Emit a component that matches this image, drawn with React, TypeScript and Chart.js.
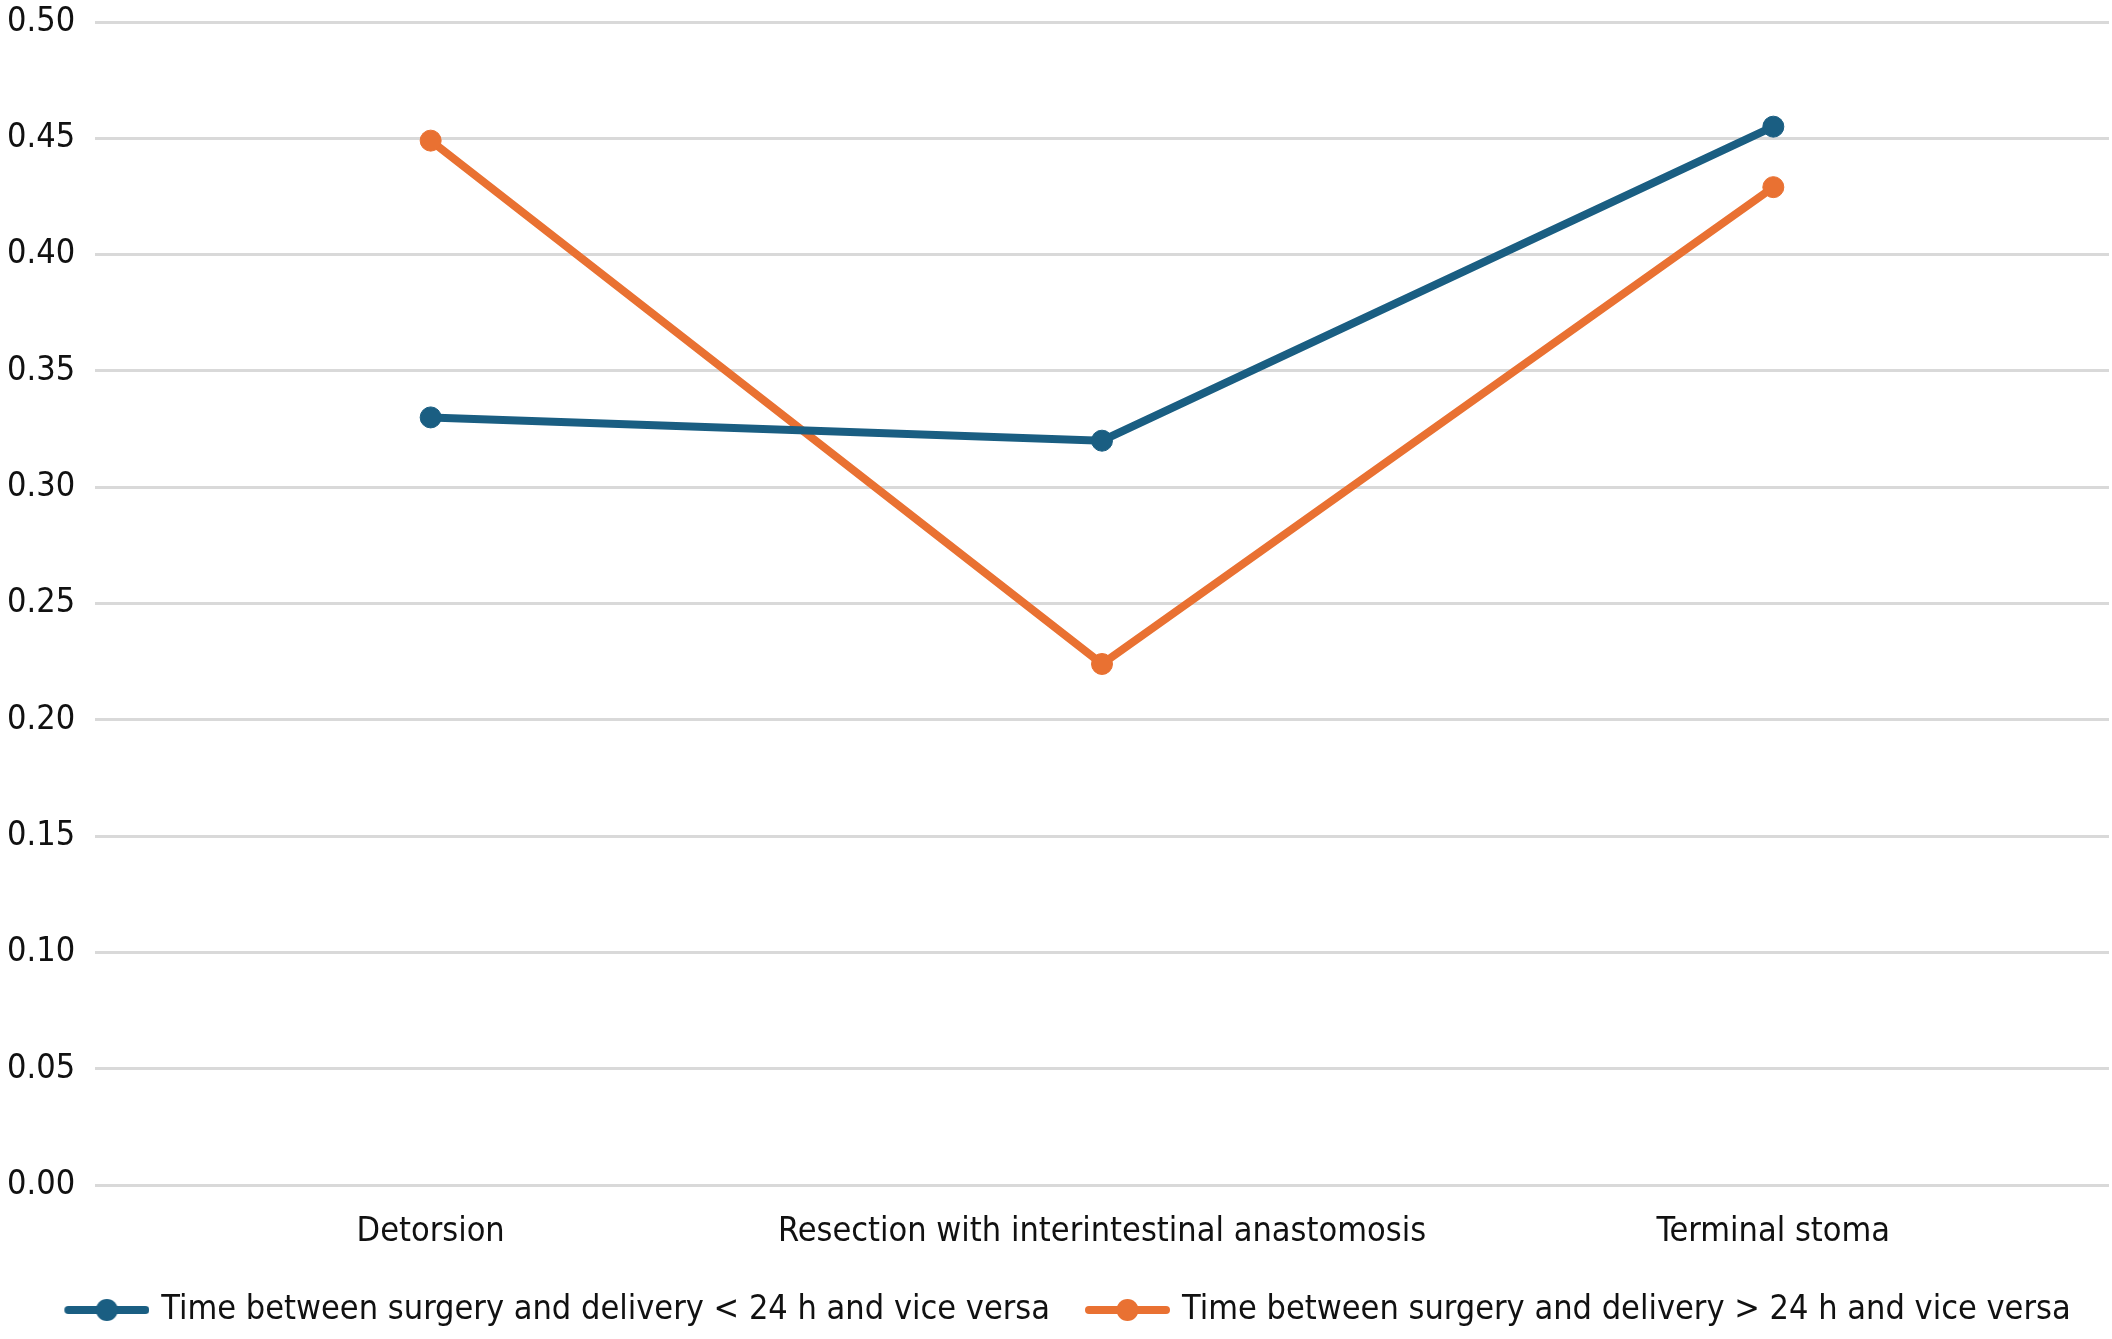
import React, { useEffect, useRef } from "react";
import { Chart, registerables } from "chart.js";

Chart.register(...registerables);

const categories = ["Detorsion", "Resection with interintestinal anastomosis", "Terminal stoma"];
const seriesNames = [
  "Time between surgery and delivery < 24 h and vice versa",
  "Time between surgery and delivery > 24 h and vice versa",
];
const under24 = [0.33, 0.32, 0.455];
const over24 = [0.449, 0.224, 0.429];
const yTicks = { min: 0, max: 0.5, step: 0.05 };

const BLUE = "#1a5e82";
const ORANGE = "#e97132";
const FONT = "'DejaVu Sans Condensed', 'DejaVu Sans', sans-serif";

function makeMarker(color: string): HTMLCanvasElement {
  const c = document.createElement("canvas");
  c.width = 109;
  c.height = 26;
  const ctx = c.getContext("2d")!;
  ctx.strokeStyle = color;
  ctx.lineWidth = 8;
  ctx.lineCap = "round";
  ctx.beginPath();
  ctx.moveTo(28, 13);
  ctx.lineTo(105, 13);
  ctx.stroke();
  ctx.fillStyle = color;
  ctx.beginPath();
  ctx.arc(66.5, 13, 11, 0, Math.PI * 2);
  ctx.fill();
  return c;
}

export default function App() {
  const ref = useRef<HTMLCanvasElement | null>(null);
  useEffect(() => {
    if (!ref.current) return;
    const markers = [makeMarker(BLUE), makeMarker(ORANGE)];
    const chart = new Chart(ref.current, {
      type: "line",
      data: {
        labels: categories,
        datasets: [
          {
            label: seriesNames[0],
            data: under24,
            borderColor: BLUE,
            backgroundColor: BLUE,
            borderWidth: 8,
            pointRadius: 10.5,
            pointBorderWidth: 1,
            pointBackgroundColor: BLUE,
            pointBorderColor: BLUE,
            tension: 0,
          },
          {
            label: seriesNames[1],
            data: over24,
            borderColor: ORANGE,
            backgroundColor: ORANGE,
            borderWidth: 8,
            pointRadius: 10.5,
            pointBorderWidth: 1,
            pointBackgroundColor: ORANGE,
            pointBorderColor: ORANGE,
            tension: 0,
          },
        ],
      },
      options: {
        responsive: false,
        devicePixelRatio: 1,
        animation: false,
        layout: { autoPadding: false, padding: { left: 7, right: 3, top: 22, bottom: 2 } },
        plugins: {
          tooltip: { enabled: false },
          legend: {
            position: "bottom",
            labels: {
              usePointStyle: true,
              pointStyleWidth: 99,
              padding: 16,
              color: "#111",
              font: { family: FONT, size: 34 },
              generateLabels: (ch: any) => {
                const items = Chart.defaults.plugins.legend.labels.generateLabels(ch);
                return items.map((it: any, i: number) => ({ ...it, pointStyle: markers[i] }));
              },
            },
          },
        },
        scales: {
          x: {
            type: "category",
            offset: true,
            grid: { display: false, drawTicks: false },
            border: { display: false },
            ticks: { color: "#111", padding: 27, font: { family: FONT, size: 34 }, maxRotation: 0 },
            afterFit: (s: any) => {
              s.height = 92;
            },
          },
          y: {
            min: yTicks.min,
            max: yTicks.max,
            grid: { color: "#d9d9d9", lineWidth: 3, drawTicks: false },
            border: { display: false },
            ticks: {
              stepSize: yTicks.step,
              padding: 0,
              crossAlign: "far",
              color: "#111",
              font: { family: FONT, size: 34 },
              callback: (v: any) => Number(v).toFixed(2),
            },
            afterFit: (s: any) => {
              s.width = 88;
            },
          },
        },
      },
    });
    return () => chart.destroy();
  }, []);
  return (
    <div style={{ position: "absolute", left: 0, top: 0, width: 2112, height: 1339, background: "#fff" }}>
      <canvas ref={ref} width={2112} height={1339} style={{ width: 2112, height: 1339, display: "block" }} />
    </div>
  );
}
